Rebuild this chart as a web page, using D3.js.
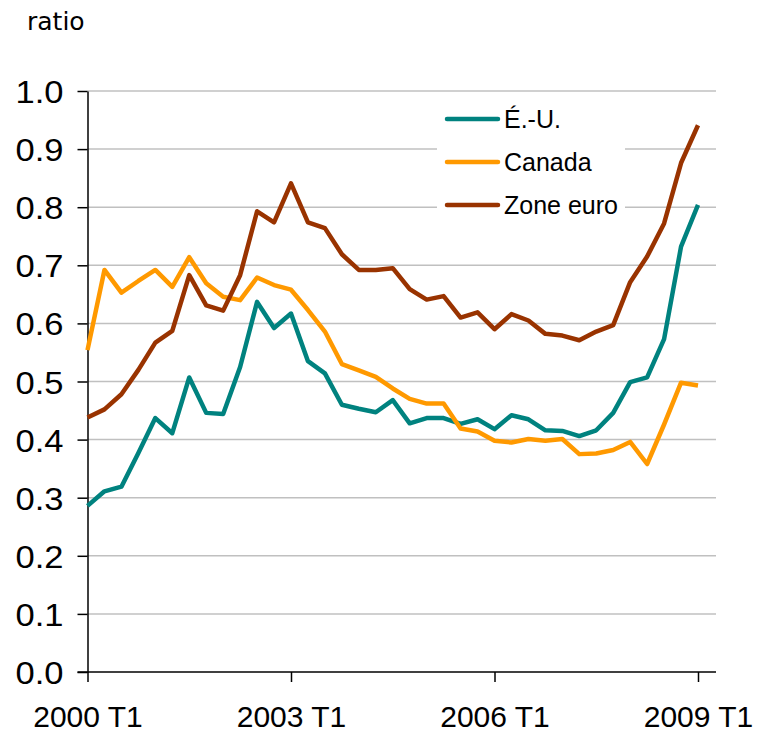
<!DOCTYPE html>
<html>
<head>
<meta charset="utf-8">
<script src="https://cdn.jsdelivr.net/npm/d3@7"></script>
<style>
  body { margin: 0; background: #fff; }
  svg { display: block; }
</style>
</head>
<body>
<svg width="757" height="732"></svg>
<script>
// quarters 2000 T1 .. 2009 T1
const quarters = []
for (let y = 2000; y <= 2009; y++) {
    for (let q = 1; q <= 4; q++) {
        if (y === 2009 && q > 1) break
        quarters.push(`${y} T${q}`)
    }
}
const tickLabels = ['2000 T1', '2003 T1', '2006 T1', '2009 T1']
const yTicks = [0, 0.1, 0.2, 0.3, 0.4, 0.5, 0.6, 0.7, 0.8, 0.9, 1.0]

const usValues = [0.286, 0.311, 0.319, 0.377, 0.437, 0.411, 0.507, 0.446, 0.444, 0.525,
    0.637, 0.592, 0.617, 0.535, 0.514, 0.460, 0.453, 0.447, 0.468, 0.428,
    0.437, 0.437, 0.427, 0.435, 0.418, 0.442, 0.435, 0.416, 0.415, 0.406,
    0.416, 0.446, 0.499, 0.507, 0.573, 0.732, 0.804]
const canadaValues = [0.554, 0.692, 0.653, 0.673, 0.692, 0.663, 0.714, 0.669, 0.646, 0.640,
    0.679, 0.666, 0.658, 0.623, 0.586, 0.530, 0.519, 0.508, 0.488, 0.470,
    0.462, 0.462, 0.419, 0.414, 0.398, 0.395, 0.401, 0.398, 0.401, 0.375,
    0.376, 0.382, 0.396, 0.358, 0.426, 0.498, 0.493]
const euroValues = [0.438, 0.452, 0.478, 0.520, 0.567, 0.587, 0.683, 0.631, 0.622, 0.683,
    0.793, 0.774, 0.841, 0.774, 0.764, 0.719, 0.692, 0.692, 0.695, 0.659,
    0.641, 0.647, 0.610, 0.619, 0.590, 0.616, 0.605, 0.582, 0.579, 0.571,
    0.586, 0.597, 0.671, 0.715, 0.772, 0.876, 0.941]

const seriesNames = ['É.-U.', 'Canada', 'Zone euro']
const seriesColors = ['#00827f', '#ff9900', '#993300']

const series = [
    { name: seriesNames[0], color: seriesColors[0], values: usValues },
    { name: seriesNames[1], color: seriesColors[1], values: canadaValues },
    { name: seriesNames[2], color: seriesColors[2], values: euroValues }
]

const svg = d3.select('svg')

const margin = { left: 87.5, right: 716, top: 91, bottom: 672 }

const xScale = d3.scalePoint()
    .domain(quarters)
    .range([margin.left, 698])

const yScale = d3.scaleLinear()
    .domain([0, 1])
    .range([margin.bottom, margin.top])

// GRIDLINES
svg.append('g')
    .selectAll('line')
    .data(yTicks.filter(d => d > 0))
    .enter().append('line')
        .attr('x1', margin.left)
        .attr('x2', margin.right)
        .attr('y1', d => yScale(d))
        .attr('y2', d => yScale(d))
        .attr('stroke', '#c0c0c0')
        .attr('stroke-width', 1.5)

// Y AXIS
const yAxis = d3.axisLeft(yScale)
    .tickValues(yTicks)
    .tickFormat(d3.format('.1f'))
    .tickSize(10)
    .tickPadding(14)
    .tickSizeOuter(0)

const yG = svg.append('g')
    .attr('transform', `translate(${margin.left},0)`)
    .call(yAxis)
yG.select('.domain').attr('stroke', '#000').attr('stroke-width', 1.5)
yG.selectAll('.tick line').attr('stroke', '#000').attr('stroke-width', 1.5)
yG.selectAll('.tick text')
    .attr('fill', '#000')
    .style('font-family', '"Liberation Sans", Arial, sans-serif')
    .style('font-size', '32px')
    .attr('textLength', 48)
    .attr('lengthAdjust', 'spacingAndGlyphs')
    .attr('dy', '0.36em')

// X AXIS
const xAxis = d3.axisBottom(xScale)
    .tickValues(tickLabels)
    .tickSize(10)
    .tickPadding(23)
    .tickSizeOuter(0)

const xG = svg.append('g')
    .attr('transform', `translate(0,${margin.bottom})`)
    .call(xAxis)
xG.select('.domain')
    .attr('d', `M${margin.left - 10},0H${margin.right}`)
    .attr('stroke', '#000').attr('stroke-width', 1.5)
xG.selectAll('.tick line').attr('stroke', '#000').attr('stroke-width', 1.5)
xG.selectAll('.tick text')
    .attr('fill', '#000')
    .style('font-family', '"Liberation Sans", Arial, sans-serif')
    .style('font-size', '30px')
    .attr('dy', '0.72em')

// axis title
svg.append('text')
    .text('ratio')
    .attr('x', 27)
    .attr('y', 30)
    .attr('fill', '#000')
    .style('font-family', '"DejaVu Sans", Verdana, sans-serif')
    .style('font-size', '25px')

// LEGEND background
svg.append('rect')
    .attr('x', 437)
    .attr('y', 100)
    .attr('width', 188)
    .attr('height', 130)
    .attr('fill', '#fff')

// LINES
const line = d3.line()
    .x((d, i) => xScale(quarters[i]))
    .y(d => yScale(d))

svg.append('g')
    .selectAll('path')
    .data(series)
    .enter().append('path')
        .attr('d', d => line(d.values))
        .attr('fill', 'none')
        .attr('stroke', d => d.color)
        .attr('stroke-width', 4.5)
        .attr('stroke-linejoin', 'round')

// LEGEND entries
const legendY = [119, 162, 205]
const entries = svg.append('g')
    .selectAll('g')
    .data(series)
    .enter().append('g')
        .attr('transform', (d, i) => `translate(447,${legendY[i]})`)

entries.append('line')
    .attr('x1', 0)
    .attr('x2', 51)
    .attr('stroke', d => d.color)
    .attr('stroke-width', 4.5)
    .attr('stroke-linecap', 'round')

entries.append('text')
    .text(d => d.name)
    .attr('x', 57)
    .attr('dy', '0.36em')
    .attr('fill', '#000')
    .style('font-family', '"Liberation Sans", Arial, sans-serif')
    .style('font-size', '25px')
</script>
</body>
</html>
